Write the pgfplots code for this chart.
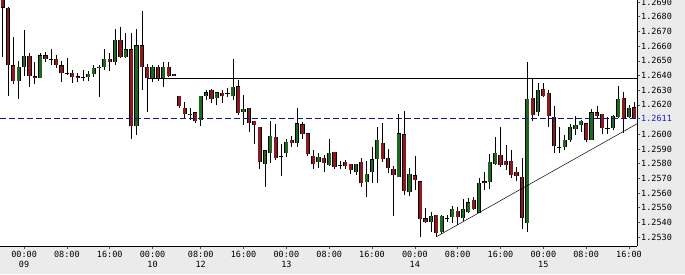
\documentclass[border=0pt]{standalone}
\usepackage{pgfplots}
\pgfplotsset{compat=1.18}
\usepackage{pgfplotstable}
\usepackage{fontspec}
\setmainfont{DejaVu Sans Mono}
\definecolor{bggray}{RGB}{235,235,235}
\definecolor{cgreen}{RGB}{30,105,30}
\definecolor{cred}{RGB}{140,25,30}
\definecolor{cblue}{RGB}{20,20,150}
\definecolor{lblue}{RGB}{25,25,210}
\definecolor{tickteal}{RGB}{30,105,95}

\pgfplotstableread{
i O H L C
0 1.26955 1.26982 1.26526 1.26860
1 1.26860 1.26866 1.26260 1.26471
2 1.26471 1.26662 1.26342 1.26362
3 1.26362 1.26499 1.26240 1.26458
4 1.26458 1.26710 1.26396 1.26533
5 1.26533 1.26553 1.26322 1.26396
6 1.26396 1.26492 1.26342 1.26383
7 1.26383 1.26553 1.26383 1.26539
8 1.26539 1.26560 1.26492 1.26512
9 1.26512 1.26580 1.26471 1.26510
10 1.26512 1.26539 1.26451 1.26471
11 1.26471 1.26499 1.26356 1.26417
12 1.26417 1.26519 1.26403 1.26416
13 1.26417 1.26437 1.26349 1.26390
14 1.26392 1.26417 1.26356 1.26385
15 1.26388 1.26437 1.26362 1.26390
16 1.26390 1.26430 1.26362 1.26410
17 1.26410 1.26471 1.26390 1.26451
18 1.26451 1.26471 1.26253 1.26458
19 1.26458 1.26580 1.26437 1.26512
20 1.26512 1.26553 1.26430 1.26492
21 1.26492 1.26717 1.26471 1.26642
22 1.26642 1.26730 1.26519 1.26526
23 1.26526 1.26689 1.26519 1.26580
24 1.26580 1.26689 1.25967 1.26056
25 1.26056 1.26717 1.25995 1.26607
26 1.26607 1.26839 1.26301 1.26458
27 1.26458 1.26478 1.26151 1.26383
28 1.26383 1.26471 1.26356 1.26458
29 1.26458 1.26471 1.26363 1.26383
30 1.26383 1.26492 1.26322 1.26458
31 1.26458 1.26492 1.26390 1.26396
32 1.26410 1.26410 1.26396 1.26396
33 1.26260 1.26260 1.26179 1.26192
34 1.26179 1.26220 1.26111 1.26138
35 1.26131 1.26179 1.26097 1.26138
36 1.26151 1.26151 1.26076 1.26090
37 1.26097 1.26260 1.26056 1.26260
38 1.26260 1.26301 1.26233 1.26287
39 1.26301 1.26308 1.26213 1.26240
40 1.26247 1.26287 1.26199 1.26287
41 1.26281 1.26301 1.26213 1.26260
42 1.26281 1.26315 1.26253 1.26282
43 1.26260 1.26512 1.26233 1.26322
44 1.26328 1.26369 1.26131 1.26144
45 1.26151 1.26267 1.26063 1.26172
46 1.26179 1.26179 1.26015 1.26076
47 1.26090 1.26090 1.25933 1.26063
48 1.26049 1.26049 1.25763 1.25811
49 1.25797 1.25892 1.25641 1.25892
50 1.25872 1.26090 1.25804 1.25988
51 1.25981 1.26069 1.25824 1.25838
52 1.25852 1.25933 1.25715 1.25851
53 1.25872 1.25967 1.25845 1.25947
54 1.25961 1.25988 1.25913 1.25940
55 1.25940 1.26179 1.25913 1.26076
56 1.26069 1.26083 1.25967 1.26001
57 1.26008 1.26008 1.25852 1.25865
58 1.25852 1.25892 1.25763 1.25797
59 1.25811 1.25872 1.25770 1.25845
60 1.25838 1.25859 1.25743 1.25804
61 1.25790 1.25967 1.25784 1.25872
62 1.25879 1.25879 1.25763 1.25777
63 1.25790 1.25818 1.25763 1.25791
64 1.25811 1.25824 1.25763 1.25784
65 1.25797 1.25797 1.25729 1.25756
66 1.25743 1.25797 1.25722 1.25797
67 1.25811 1.25838 1.25641 1.25668
68 1.25675 1.25818 1.25572 1.25729
69 1.25743 1.25913 1.25668 1.25831
70 1.25831 1.26049 1.25668 1.25961
71 1.25940 1.26076 1.25811 1.25831
72 1.25838 1.25899 1.25736 1.25770
73 1.25763 1.25784 1.25443 1.25722
74 1.25709 1.26138 1.25709 1.26008
75 1.26001 1.26158 1.25586 1.25613
76 1.25606 1.25770 1.25579 1.25729
77 1.25722 1.25852 1.25620 1.25688
78 1.25681 1.25681 1.25300 1.25423
79 1.25429 1.25498 1.25395 1.25402
80 1.25402 1.25470 1.25334 1.25443
81 1.25450 1.25450 1.25300 1.25327
82 1.25334 1.25450 1.25320 1.25443
83 1.25426 1.25450 1.25402 1.25429
84 1.25436 1.25511 1.25395 1.25491
85 1.25477 1.25504 1.25382 1.25436
86 1.25429 1.25559 1.25409 1.25491
87 1.25470 1.25566 1.25464 1.25538
88 1.25552 1.25572 1.25484 1.25491
89 1.25464 1.25702 1.25464 1.25668
90 1.25681 1.25743 1.25620 1.25668
91 1.25675 1.25865 1.25627 1.25811
92 1.25797 1.25981 1.25790 1.25872
93 1.25859 1.26049 1.25777 1.25790
94 1.25818 1.25927 1.25756 1.25790
95 1.25818 1.25892 1.25702 1.25722
96 1.25743 1.25777 1.25681 1.25715
97 1.25709 1.25838 1.25355 1.25429
98 1.25395 1.26492 1.25334 1.26240
99 1.26247 1.26376 1.26090 1.26131
100 1.26151 1.26349 1.26124 1.26301
101 1.26308 1.26349 1.26253 1.26260
102 1.26281 1.26301 1.26049 1.26124
103 1.26117 1.26192 1.25872 1.25920
104 1.25913 1.26049 1.25872 1.25914
105 1.25913 1.25995 1.25892 1.25961
106 1.25961 1.26070 1.25947 1.26049
107 1.26035 1.26124 1.25995 1.26063
108 1.26063 1.26097 1.26015 1.26090
109 1.26076 1.26076 1.25947 1.25961
110 1.25961 1.26172 1.25961 1.26151
111 1.26151 1.26192 1.26110 1.26124
112 1.26138 1.26138 1.26001 1.26042
113 1.26042 1.26117 1.26001 1.26043
114 1.26042 1.26131 1.26028 1.26124
115 1.26117 1.26328 1.26110 1.26240
116 1.26247 1.26287 1.26008 1.26110
117 1.26117 1.26199 1.26110 1.26179
118 1.26185 1.26220 1.26110 1.26110
}\candles

\begin{document}
\begin{tikzpicture}
\fill[bggray] (0,-28pt) rectangle (685pt,246pt);
\begin{axis}[
  at={(0,0)}, anchor=south west,
  scale only axis, width=637pt, height=246pt,
  xmin=-0.5, xmax=118.5, ymin=1.25239, ymax=1.26914,
  axis background/.style={fill=white},
  axis x line=bottom, axis y line=right,
  axis line style={-, black, line width=0.8pt},
  tick align=outside, major tick length=3pt,
  tick style={tickteal, line width=0.6pt},
  xtick={4,12,20,28,37,45,53,61,69,77,85,93,101,109,117},
  xticklabels={{00:00\\09},{08:00},{16:00},{00:00\\10},{08:00\\12},{16:00},{00:00\\13},{08:00},{16:00},{00:00\\14},{08:00},{16:00},{00:00\\15},{08:00},{16:00}},
  x tick label style={align=center, font=\fontsize{8.5}{10}\selectfont, inner sep=1.5pt},
  ytick={1.253,1.254,1.255,1.256,1.257,1.258,1.259,1.260,1.262,1.263,1.264,1.265,1.266,1.267,1.268,1.269},
  yticklabels={1.2530,1.2540,1.2550,1.2560,1.2570,1.2580,1.2590,1.2600,1.2620,1.2630,1.2640,1.2650,1.2660,1.2670,1.2680,1.2690},
  y tick label style={font=\fontsize{8.5}{10}\selectfont, inner sep=1pt},
  extra y ticks={1.2611},
  extra y tick labels={\textcolor{lblue}{1.2611}},
  extra y tick style={tick label style={font=\fontsize{8.5}{10}\selectfont, inner sep=1pt}},
]
% wicks
\addplot[draw=none, mark=none, error bars/.cd, y dir=plus, y explicit, error mark=none,
  error bar style={draw=black, line width=0.6pt}]
  table[x=i, y=L, y error expr=\thisrow{H}-\thisrow{L}] {\candles};
% body outlines
\addplot[draw=none, mark=none, error bars/.cd, y dir=plus, y explicit, error mark=none,
  error bar style={draw=black, line width=4.2pt}]
  table[x=i, y expr={min(\thisrow{O},\thisrow{C})-0.00002},
        y error expr={abs(\thisrow{C}-\thisrow{O})+0.00004}] {\candles};
% bullish fill
\addplot[draw=none, mark=none, error bars/.cd, y dir=plus, y explicit, error mark=none,
  error bar style={draw=cgreen, line width=2.8pt}]
  table[x=i, y expr={\thisrow{O}+0.00003},
        y error expr={max(\thisrow{C}-\thisrow{O}-0.00006,0)}] {\candles};
% bearish fill
\addplot[draw=none, mark=none, error bars/.cd, y dir=plus, y explicit, error mark=none,
  error bar style={draw=cred, line width=2.8pt}]
  table[x=i, y expr={\thisrow{C}+0.00003},
        y error expr={max(\thisrow{O}-\thisrow{C}-0.00006,0)}] {\candles};
\addplot[black, line width=0.6pt] coordinates {(27,1.2638) (118.5,1.2638)};
\addplot[cblue, line width=0.8pt, dash pattern=on 6pt off 3pt] coordinates {(-0.5,1.2611) (118.5,1.2611)};
\addplot[black, line width=0.5pt] coordinates {(81,1.25302) (118.5,1.26071)};
\end{axis}
\pgfresetboundingbox
\useasboundingbox (0,-28pt) rectangle (685pt,246pt);
\end{tikzpicture}
\end{document}
